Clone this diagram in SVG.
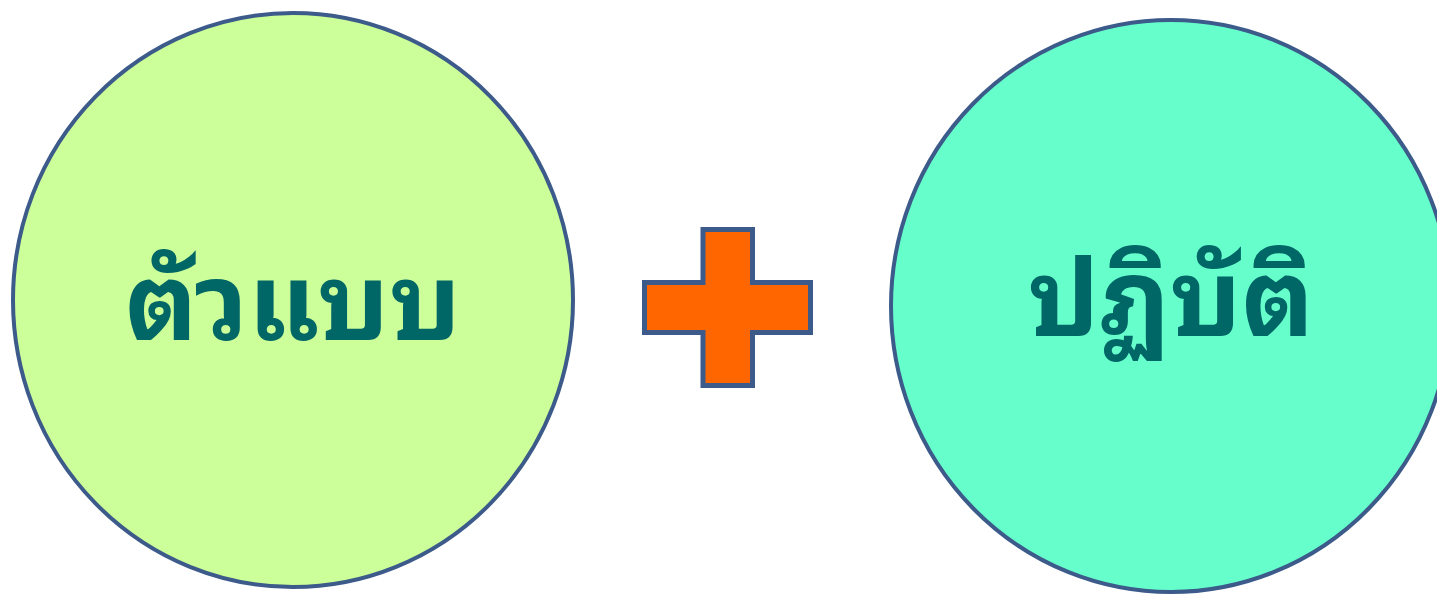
<svg xmlns="http://www.w3.org/2000/svg" width="1437" height="595" viewBox="0 0 1437 595">
<style>
.c{stroke:#3C5A8A;stroke-width:4}
.t{font-family:"Noto Sans Thai Looped","Noto Serif Thai","Loma","Garuda","Tahoma","Noto Sans Thai","Noto Sans",sans-serif;font-weight:bold;font-size:107px;fill:#006666;text-anchor:middle}
</style>
<rect width="1437" height="595" fill="#FFFFFF"/>
<g id="node-model">
<ellipse class="c" cx="293" cy="300" rx="280" ry="287" fill="#CCFF99"/>
<text class="t" x="293" y="340">ตัวแบบ</text>
</g>
<g id="node-plus">
<path d="M703,229.5 H752.5 V282.5 H810.5 V332.5 H752.5 V385.5 H703 V332.5 H644.5 V282.5 H703 Z" fill="#FF6600" stroke="#3C5A8A" stroke-width="5"/>
</g>
<g id="node-practice">
<ellipse class="c" cx="1171" cy="306" rx="280" ry="286" fill="#66FFCC"/>
<text class="t" x="1171" y="336">ปฏิบัติ</text>
</g>
<g id="connectors"></g>
</svg>
